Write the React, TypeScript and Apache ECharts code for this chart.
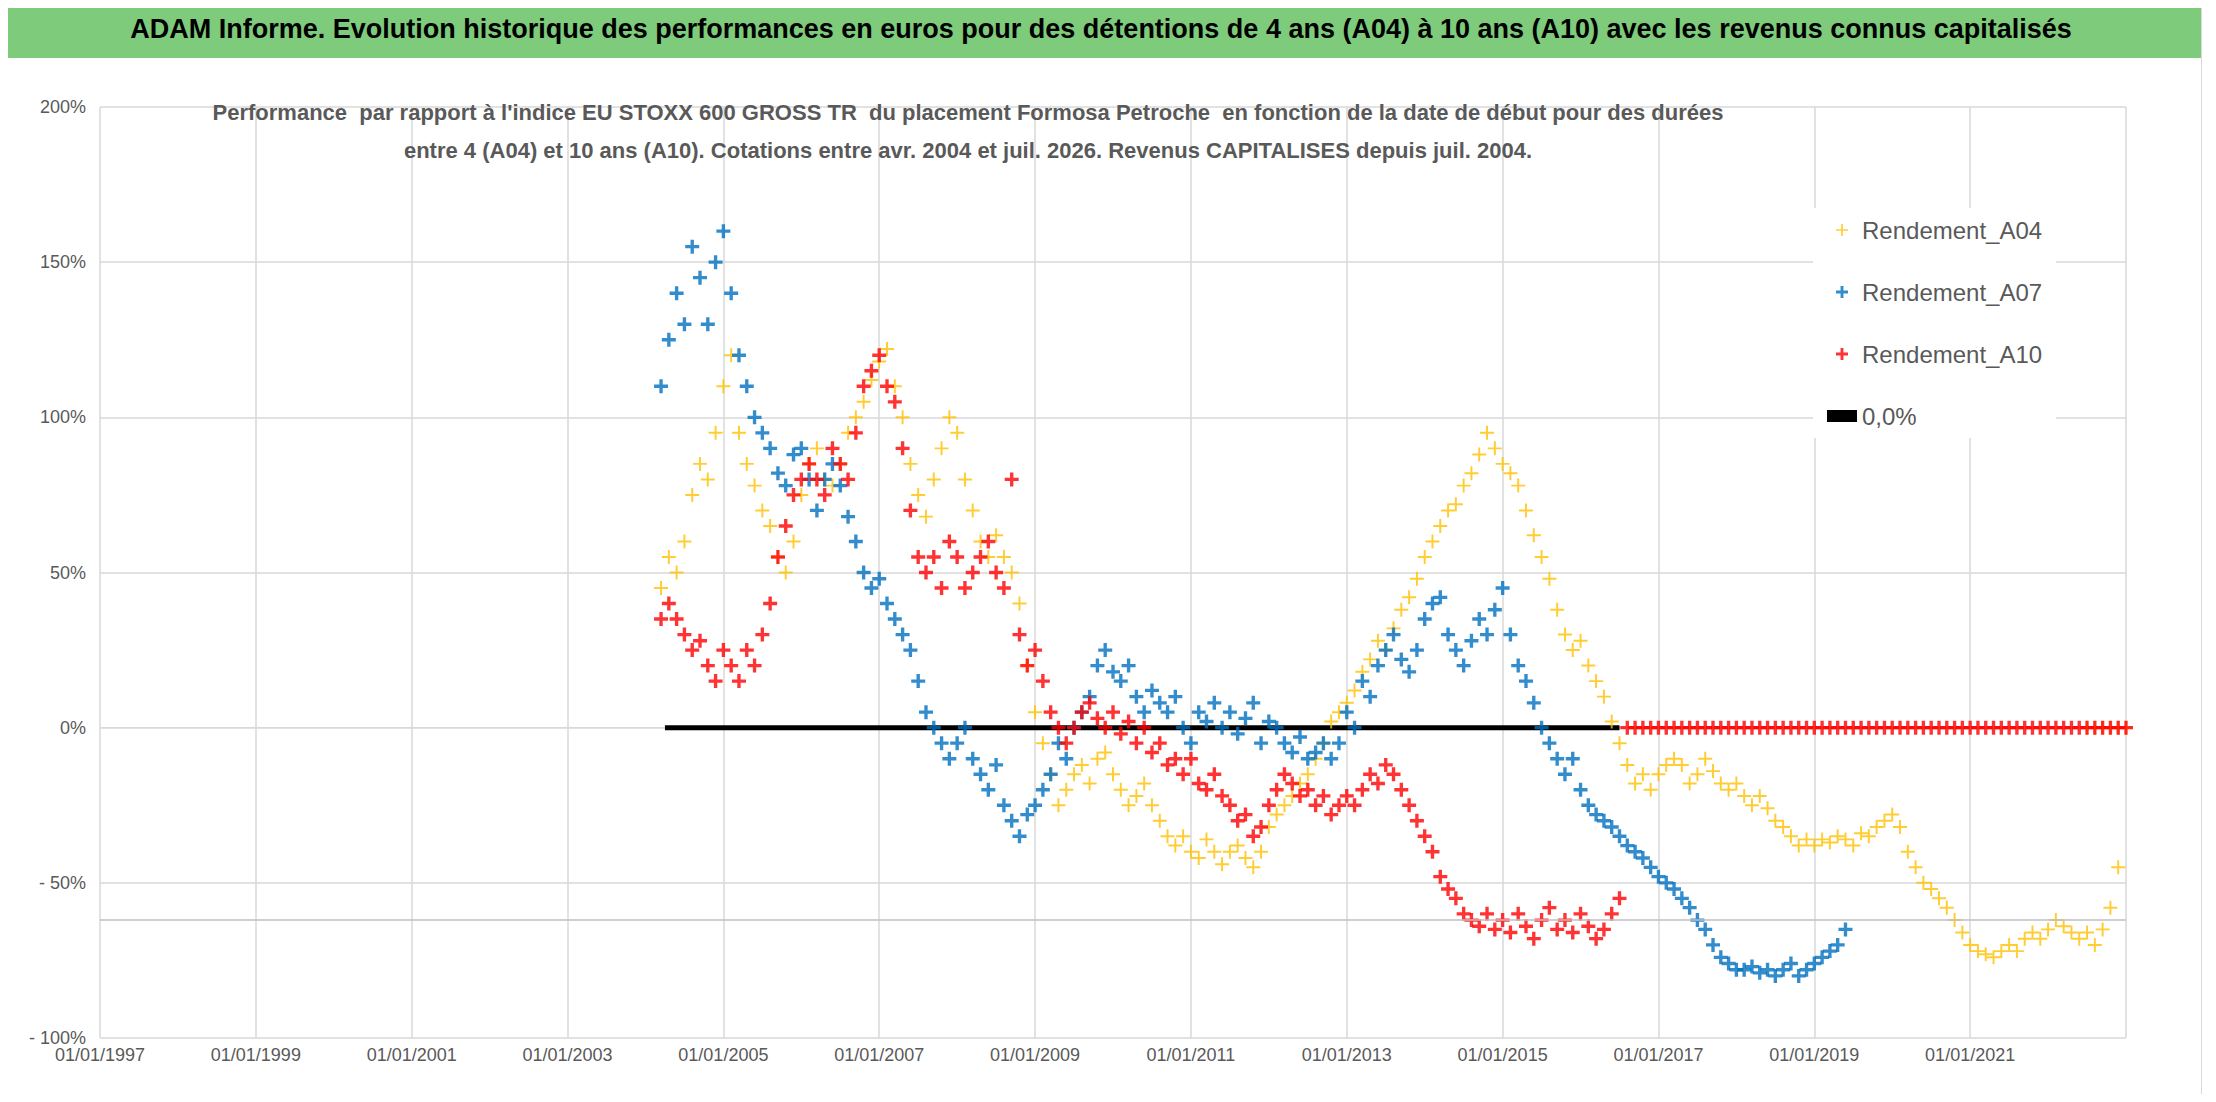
import React, { useEffect, useRef } from 'react';
import * as echarts from 'echarts';

// Valeurs en %, une valeur tous les 0,1 an à partir de l'année de début
const a04Start = 2004.2;
const a04Values = [
  45, 55, 50, 60, 75, 85, 80, 95, 110, 120, 95, 85, 78, 70, 65, 55, 50, 60, 75, 85,
  90, 80, 78, 85, 95, 100, 105, 112, 118, 122, 110, 100, 85, 75, 68, 80, 90, 100, 95, 80,
  70, 60, 55, 62, 55, 50, 40, 20, 5, -5, -15, -25, -20, -15, -12, -18, -10, -8, -15, -20,
  -25, -22, -18, -25, -30, -35, -38, -35, -40, -42, -36, -40, -44, -40, -38, -42, -45, -40, -32, -28,
  -25, -22, -18, -15, -10, -5, 2, 5, 8, 12, 18, 22, 28, 25, 32, 38, 42, 48, 55, 60,
  65, 70, 72, 78, 82, 88, 95, 90, 85, 82, 78, 70, 62, 55, 48, 38, 30, 25, 28, 20,
  15, 10, 2, -5, -12, -18, -15, -20, -15, -12, -10, -12, -18, -15, -10, -14, -18, -20, -18, -22,
  -25, -22, -26, -30, -32, -35, -38, -36, -38, -36, -37, -35, -36, -38, -34, -35, -32, -30, -28, -32,
  -40, -45, -50, -52, -55, -58, -62, -66, -70, -72, -73, -74, -72, -70, -72, -68, -66, -68, -65, -62,
  -64, -66, -68, -66, -70, -65, -58, -45,
];
const a04ZeroYears = [2022.5, 2022.6, 2022.7, 2022.8, 2022.9, 2023.0];

const a07Start = 2004.2;
const a07Values = [
  110, 125, 140, 130, 155, 145, 130, 150, 160, 140, 120, 110, 100, 95, 90, 82, 78, 88, 90, 80,
  70, 80, 85, 78, 68, 60, 50, 45, 48, 40, 35, 30, 25, 15, 5, 0, -5, -10, -5, 0,
  -10, -15, -20, -12, -25, -30, -35, -28, -25, -20, -15, -5, -10, 0, 5, 10, 20, 25, 18, 15,
  20, 10, 5, 12, 8, 5, 10, 0, -5, 5, 2, 8, 0, 5, -2, 3, 8, -5, 2, 0,
  -5, -8, -3, -10, -8, -5, -10, -5, 5, 0, 15, 10, 20, 25, 30, 22, 18, 25, 35, 40,
  42, 30, 25, 20, 28, 35, 30, 38, 45, 30, 20, 15, 8, 0, -5, -10, -15, -10, -20, -25,
  -28, -30, -32, -35, -38, -40, -42, -45, -48, -50, -52, -55, -58, -62, -65, -70, -74, -76, -78, -78,
  -77, -79, -78, -80, -78, -76, -80, -78, -76, -74, -72, -70, -65,
];

const a10Start = 2004.2;
const a10Values = [
  35, 40, 35, 30, 25, 28, 20, 15, 25, 20, 15, 25, 20, 30, 40, 55, 65, 75, 80, 85,
  80, 75, 90, 85, 80, 95, 110, 115, 120, 110, 105, 90, 70, 55, 50, 55, 45, 60, 55, 45,
  50, 55, 60, 50, 45, 80, 30, 20, 25, 15, 5, 0, -5, 0, 5, 8, 3, 0, 5, -2,
  2, -5, 0, -8, -5, -12, -10, -15, -10, -18, -20, -15, -22, -25, -30, -28, -35, -32, -25, -20,
  -15, -18, -22, -20, -25, -22, -28, -25, -22, -25, -20, -15, -18, -12, -15, -20, -25, -30, -35, -40,
  -48, -52, -55, -60, -62, -64, -60, -65, -62, -66, -60, -64, -68, -62, -58, -65, -62, -66, -60, -64,
  -68, -65, -60, -55,
];
const a10ZeroStart = 2016.6;
const a10ZeroValues = [
  0, 0, 0, 0, 0, 0, 0, 0, 0, 0, 0, 0, 0, 0, 0, 0, 0, 0, 0, 0,
  0, 0, 0, 0, 0, 0, 0, 0, 0, 0, 0, 0, 0, 0, 0, 0, 0, 0, 0, 0,
  0, 0, 0, 0, 0, 0, 0, 0, 0, 0, 0, 0, 0, 0, 0, 0, 0, 0, 0, 0,
  0, 0, 0, 0, 0,
];

const zeroLine = [[2004.25, 0], [2016.5, 0]];
const yTicks = [-100, -50, 0, 50, 100, 150, 200];

const PLUS = 'path://M4.3,0H5.7V4.3H10V5.7H5.7V10H4.3V5.7H0V4.3H4.3Z';
const PLUS_BOLD = 'path://M3.8,0H6.2V3.8H10V6.2H6.2V10H3.8V6.2H0V3.8H3.8Z';

const toPoints = (start: number, step: number, values: number[]) =>
  values.map((v, i) => [Math.round((start + i * step) * 100) / 100, v]);

const App: React.FC = () => {
  const chartRef = useRef<HTMLDivElement>(null);

  useEffect(() => {
    if (!chartRef.current) return;
    const chart = echarts.init(chartRef.current, undefined, { renderer: 'svg' });
    const labelFont = '"Liberation Sans", sans-serif';
    chart.setOption({
      animation: false,
      backgroundColor: '#ffffff',
      title: {
        text: "Performance  par rapport à l'indice EU STOXX 600 GROSS TR  du placement Formosa Petroche  en fonction de la date de début pour des durées\nentre 4 (A04) et 10 ans (A10). Cotations entre avr. 2004 et juil. 2026. Revenus CAPITALISES depuis juil. 2004.",
        left: 962,
        top: 30,
        textAlign: 'center',
        textStyle: {
          fontFamily: labelFont,
          fontSize: 22,
          fontWeight: 'bold',
          color: '#595959',
          lineHeight: 38,
        },
      },
      legend: {
        orient: 'vertical',
        left: 1812,
        top: 150,
        itemGap: 38,
        itemWidth: 30,
        itemHeight: 12,
        backgroundColor: '#ffffff',
        padding: [10, 14, 10, 14],
        textStyle: { fontFamily: labelFont, fontSize: 24, color: '#595959' },
        data: [
          { name: 'Rendement_A04', icon: PLUS },
          { name: 'Rendement_A07', icon: PLUS_BOLD },
          { name: 'Rendement_A10', icon: PLUS_BOLD },
          { name: '0,0%', icon: 'rect', itemStyle: { color: '#000' } },
        ],
      },
      grid: { left: 99, right: 75, top: 49, bottom: 63 },
      xAxis: {
        type: 'value',
        min: 1997,
        max: 2023,
        interval: 2,
        axisLine: { show: true, lineStyle: { color: '#d9d9d9' } },
        axisTick: { show: false },
        splitLine: { show: true, lineStyle: { color: '#d9d9d9', width: 1.5 } },
        axisLabel: {
          showMaxLabel: false,
          fontFamily: labelFont,
          fontSize: 18,
          color: '#595959',
          margin: 8,
          formatter: (v: number) => `01/01/${v}`,
        },
      },
      yAxis: {
        type: 'value',
        min: yTicks[0],
        max: yTicks[yTicks.length - 1],
        interval: 50,
        axisLine: { show: false },
        axisTick: { show: false },
        splitLine: { show: true, lineStyle: { color: '#d9d9d9', width: 1.5 } },
        axisLabel: {
          fontFamily: labelFont,
          fontSize: 18,
          color: '#595959',
          margin: 14,
          formatter: (v: number) => (v < 0 ? `- ${-v}%` : `${v}%`),
        },
      },
      series: [
        {
          name: 'Rendement_A04',
          type: 'scatter',
          symbol: PLUS,
          symbolSize: 14,
          itemStyle: { color: '#ffc000' },
          data: [...toPoints(a04Start, 0.1, a04Values), ...a04ZeroYears.map((y) => [y, 0])],
          markLine: {
            silent: true,
            symbol: 'none',
            label: { show: false },
            lineStyle: { color: '#bfbfbf', width: 1.5, type: 'solid' },
            data: [{ yAxis: -62 }],
          },
        },
        {
          name: 'Rendement_A07',
          type: 'scatter',
          symbol: PLUS_BOLD,
          symbolSize: 14,
          itemStyle: { color: '#0070c0' },
          data: toPoints(a07Start, 0.1, a07Values),
        },
        {
          name: 'Rendement_A10',
          type: 'scatter',
          symbol: PLUS_BOLD,
          symbolSize: 14,
          itemStyle: { color: '#ff0000' },
          data: [...toPoints(a10Start, 0.1, a10Values), ...toPoints(a10ZeroStart, 0.1, a10ZeroValues)],
        },
        {
          name: '0,0%',
          type: 'line',
          symbol: 'none',
          lineStyle: { color: '#000000', width: 5 },
          itemStyle: { color: '#000000' },
          data: zeroLine,
          z: 1,
        },
      ],
    });
    return () => chart.dispose();
  }, []);

  return (
    <div style={{ width: 2200, border: '1px solid #d9d9d9', margin: -8 }}>
      <div
        style={{
          height: 57,
          background: '#7dcb7b',
          display: 'flex',
          alignItems: 'center',
          justifyContent: 'center',
          fontFamily: '"Liberation Sans", sans-serif',
          fontWeight: 'bold',
          fontSize: 27,
          color: '#000',
          whiteSpace: 'nowrap',
        }}
      >
        ADAM Informe. Evolution historique des performances en euros pour des détentions de 4 ans (A04) à 10 ans (A10) avec les revenus connus capitalisés
      </div>
      <div ref={chartRef} style={{ width: 2200, height: 1043 }} />
    </div>
  );
};

export default App;
